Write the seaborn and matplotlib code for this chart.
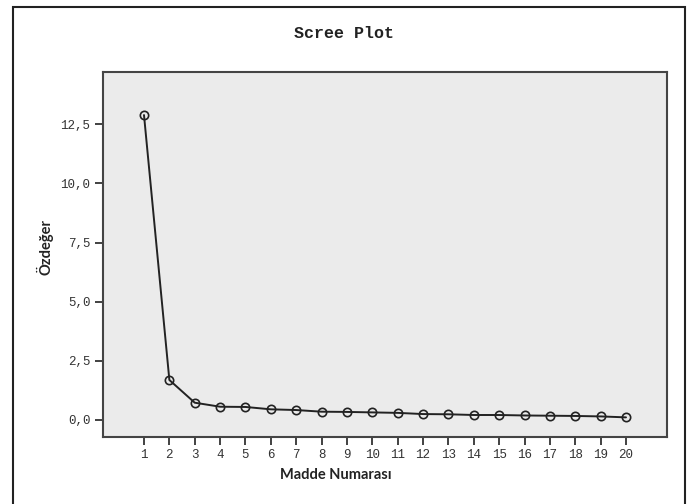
import seaborn as sns
import matplotlib.pyplot as plt
import pandas as pd
from matplotlib.patches import Rectangle

# eigenvalues
madde = list(range(1, 21))
ozdeger = [12.89, 1.69, 0.73, 0.56, 0.55, 0.45, 0.42, 0.35, 0.34, 0.32,
           0.30, 0.25, 0.24, 0.21, 0.21, 0.19, 0.18, 0.17, 0.15, 0.11]
y_ticks = [0, 2.5, 5.0, 7.5, 10.0, 12.5]
y_tick_labels = ["0,0", "2,5", "5,0", "7,5", "10,0", "12,5"]

df = pd.DataFrame({"Madde Numarası": madde, "Özdeğer": ozdeger})

sns.set_style("white")
mono = "Liberation Mono"

fig = plt.figure(figsize=(6.88, 5.04), dpi=100)
ax = fig.add_axes([103 / 688, 1 - 437 / 504, 564 / 688, 365 / 504])
ax.set_facecolor("#ebebeb")

sns.lineplot(data=df, x="Madde Numarası", y="Özdeğer", ax=ax, color="#222222",
             linewidth=1.4, marker="o", markersize=6, markerfacecolor="none",
             markeredgecolor="#222222", markeredgewidth=1.2)

ax.set_xlim(-0.616, 21.616)
ax.set_ylim(-0.72, 14.71)
ax.set_xticks(madde)
ax.set_xticklabels([str(m) for m in madde], fontfamily=mono, fontsize=9, color="#333333")
ax.set_yticks(y_ticks)
ax.set_yticklabels(y_tick_labels, fontfamily=mono, fontsize=9, color="#333333")
ax.tick_params(axis="both", direction="out", length=6, width=1.3, color="#333333",
               left=True, bottom=True, pad=3)

for side in ["left", "bottom", "right", "top"]:
    ax.spines[side].set_color("#444444")
    ax.spines[side].set_linewidth(1.5)

ax.set_xlabel("Madde Numarası", fontfamily="Lato", fontweight="bold", fontsize=10.5,
              color="#222222")
ax.set_ylabel("Özdeğer", fontfamily="Lato", fontweight="bold", fontsize=10.5,
              color="#222222")
ax.xaxis.set_label_coords((336 - 103) / 564, -(475 - 437) / 365)
ax.yaxis.set_label_coords(-(103 - 45) / 564, (437 - 247) / 365)
ax.xaxis.label.set_va("center")
ax.yaxis.label.set_va("center")

fig.text(0.5, 1 - 33 / 504, "Scree Plot", ha="center", va="center",
         fontfamily=mono, fontweight="bold", fontsize=12, color="#222222")

# outer frame around the whole figure
fig.patches.append(Rectangle((13 / 688, -0.02), 672 / 688, 1.02 - 7 / 504,
                             transform=fig.transFigure, fill=False,
                             edgecolor="#222222", linewidth=1.5))

fig.savefig("out.png", dpi=100)
